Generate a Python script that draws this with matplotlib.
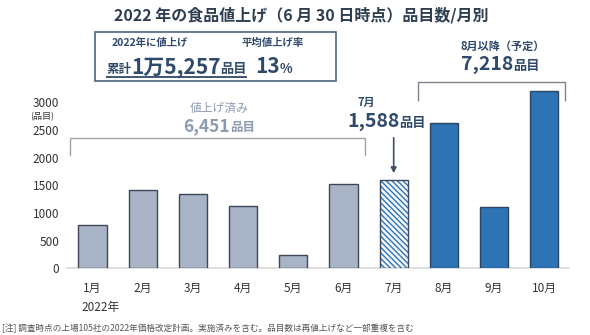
import matplotlib
matplotlib.use("Agg")
import matplotlib.pyplot as plt
from matplotlib.patches import Rectangle
from matplotlib.lines import Line2D

plt.rcParams['font.family'] = ['Noto Sans CJK JP', 'DejaVu Sans']

# ---- data ----
months = ["1月", "2月", "3月", "4月", "5月", "6月", "7月", "8月", "9月", "10月"]
items_done = [790, 1420, 1350, 1120, 241, 1530]      # Jan-Jun (done)
items_july = [1588]                                   # Jul
items_planned = [2630, 1110, 3200]                    # Aug-Oct (planned)
yticks = [0, 500, 1000, 1500, 2000, 2500, 3000]

W, H = 590, 335
fig = plt.figure(figsize=(W / 100, H / 100), dpi=100)
ax = fig.add_axes([67.4 / W, (H - 268.3) / H, 502 / W, (268.3 - 85.8) / H])

GRAY = "#aab4c7"
BLUE = "#2e74b5"
EDGE = "#3d4757"
DARK = "#2f4a6a"
LIGHT = "#8d9bb0"

x_done = list(range(len(items_done)))
x_july = [len(items_done)]
x_plan = [len(items_done) + 1 + i for i in range(len(items_planned))]
w = 0.56

ax.bar(x_done, items_done, width=w, color=GRAY, edgecolor=EDGE, linewidth=1, zorder=3)
ax.bar(x_july, items_july, width=w, color="#f4f8fc", edgecolor=BLUE, hatch="\\\\\\\\\\\\",
       linewidth=0, zorder=3)
ax.bar(x_july, items_july, width=w, color="none", edgecolor=EDGE, linewidth=1, zorder=4)
ax.bar(x_plan, items_planned, width=w, color=BLUE, edgecolor="#2a4463", linewidth=1, zorder=3)

ax.set_xlim(-0.5, 9.5)
ax.set_ylim(0, 3300)
ax.set_yticks(yticks)
ax.set_yticklabels([str(v) for v in yticks], fontsize=8.5, color="#333333")
ax.set_xticks(range(len(months)))
ax.set_xticklabels(months, fontsize=8.5, color="#333333")
ax.tick_params(axis='both', length=0, pad=6)
ax.tick_params(axis='x', pad=10)
for s in ["top", "right", "left"]:
    ax.spines[s].set_visible(False)
ax.spines["bottom"].set_color("#d9d9d9")
ax.spines["bottom"].set_linewidth(1.2)

# brackets
ax.add_line(Line2D([-0.45, -0.45, 5.43, 5.43], [2049, 2356, 2356, 2049],
                   color="#a0a4aa", lw=1, clip_on=False))
ax.add_line(Line2D([6.48, 6.48, 9.41, 9.41], [3043, 3374, 3374, 3043],
                   color="#7d838b", lw=1, clip_on=False))

# July arrow
ax.annotate("", xy=(6, 1669), xytext=(6, 2410),
            arrowprops=dict(arrowstyle="-|>", color="#3b4f66", lw=1.2,
                            mutation_scale=8), annotation_clip=False)

fig.canvas.draw()
renderer = fig.canvas.get_renderer()


def seq(x_px, y_px, parts, align="left"):
    texts = []
    widths = []
    for s, size, color, weight in parts:
        t = fig.text(0, 1 - y_px / H, s, fontsize=size, color=color,
                     weight=weight, va="baseline", ha="left")
        texts.append(t)
        widths.append(t.get_window_extent(renderer).width)
    total = sum(widths)
    x = x_px - total / 2 if align == "center" else x_px
    start = x
    for t, wd in zip(texts, widths):
        t.set_x(x / W)
        x += wd
    return float(start), float(x)


# title
fig.text(301 / W, 1 - 15 / H, "2022 年の食品値上げ（6 月 30 日時点）品目数/月別",
         fontsize=11.5, weight="bold", color="#2d3e50", ha="center", va="center")

# summary box
fig.patches.append(Rectangle((95 / W, 1 - 81 / H), (336 - 95) / W, (81 - 32) / H,
                             transform=fig.transFigure, fill=False,
                             edgecolor="#4f6580", lw=1.2))
fig.text(112 / W, 1 - 43 / H, "2022年に値上げ", fontsize=7.5, color=DARK,
         weight="bold", va="center")
fig.text(242 / W, 1 - 43 / H, "平均値上げ率", fontsize=7.5, color=DARK,
         weight="bold", va="center")
x0, x1 = seq(106, 73, [("累計", 9, DARK, "bold"), ("1万5,257", 15, DARK, "bold"),
                       ("品目", 9.5, DARK, "bold")])
ul = Line2D([x0, x1], [H - 76.5, H - 76.5], transform=None, color=DARK, lw=1.3,
            solid_capstyle="butt", zorder=20)
fig.add_artist(ul)
ul.set_transform(matplotlib.transforms.IdentityTransform())
seq(255, 73, [("13", 15, DARK, "bold"), ("%", 9.5, DARK, "bold")])

# planned annotation
fig.text(503 / W, 1 - 46 / H, "8月以降（予定）", fontsize=8, color=DARK,
         weight="bold", ha="center", va="center")
seq(500, 70, [("7,218", 14, DARK, "bold"), ("品目", 9.5, DARK, "bold")], align="center")

# done annotation
fig.text(219 / W, 1 - 108 / H, "値上げ済み", fontsize=8.5, color=LIGHT,
         ha="center", va="center")
seq(219, 131, [("6,451", 12.5, LIGHT, "bold"), ("品目", 9, LIGHT, "bold")], align="center")

# july annotation
fig.text(357 / W, 1 - 102 / H, "7月", fontsize=8, color=DARK, weight="bold",
         ha="left", va="center")
seq(347, 127, [("1,588", 14, DARK, "bold"), ("品目", 9.5, DARK, "bold")])

# y unit, year, note
fig.text(42 / W, 1 - 117 / H, "(品目)", fontsize=6.5, color="#333333",
         ha="center", va="center")
fig.text(81 / W, 1 - 308 / H, "2022年", fontsize=8.5, color="#333333",
         ha="left", va="center")
fig.text(2 / W, 1 - 328 / H,
         "[注] 調査時点の上場105社の2022年価格改定計画。実施済みを含む。品目数は再値上げなど一部重複を含む",
         fontsize=6.2, color="#555555", ha="left", va="center")

fig.savefig("out.png", dpi=100)
